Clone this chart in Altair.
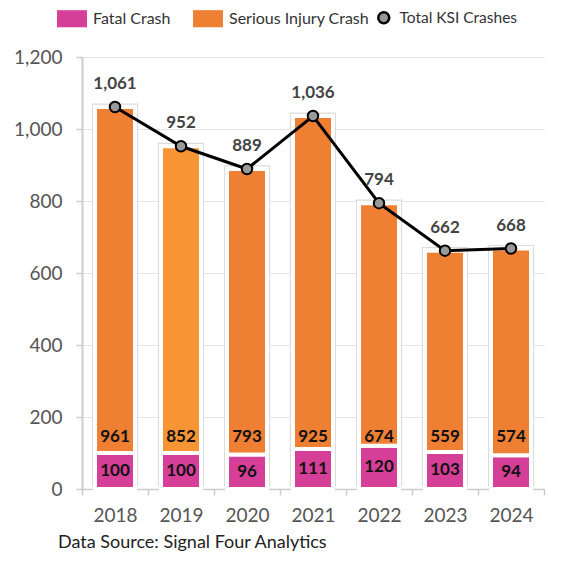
import altair as alt
import pandas as pd

years = ["2018", "2019", "2020", "2021", "2022", "2023", "2024"]
fatal = [100, 100, 96, 111, 120, 103, 94]
serious = [961, 852, 793, 925, 674, 559, 574]
total = [1061, 952, 889, 1036, 794, 662, 668]

PINK = "#D63F97"
ORANGE = "#EE7F33"
ORANGE_HI = "#F79433"
FONT = "Lato"

rows = []
for y, f, s in zip(years, fatal, serious):
    rows.append({"year": y, "type": "Fatal Crash", "value": f, "ord": 0})
    rows.append({"year": y, "type": "Serious Injury Crash", "value": s, "ord": 1})
long_df = pd.DataFrame(rows)
tot_df = pd.DataFrame({"year": years, "total": total, "fatal": fatal,
                       "serious": serious, "series": ["Total KSI Crashes"] * len(years)})

x_enc = alt.X("year:N", title=None, sort=years,
              scale=alt.Scale(paddingInner=0, paddingOuter=0),
              axis=alt.Axis(labelAngle=0, labelFontSize=19, labelColor="#555", labelFont=FONT,
                            tickBand="extent", tickSize=6, tickColor="#ccc", tickWidth=1.5,
                            domainColor="#ccc", domainWidth=1.5, labelPadding=11, grid=False))
y_scale = alt.Scale(domain=[0, 1200])
y_axis = alt.Axis(values=[0, 200, 400, 600, 800, 1000, 1200], format=",.0f", labelFontSize=19,
                  labelColor="#555", labelFont=FONT, tickSize=6, tickColor="#ccc", tickWidth=1.5,
                  domainColor="#ccc", domainWidth=2, labelPadding=14, gridColor="#e3e3e3",
                  gridWidth=1)

base_tot = alt.Chart(tot_df)

bg = base_tot.mark_bar(size=45, fill="white", stroke="#dcdcdc", strokeWidth=1.2, yOffset=-3).encode(
    x=x_enc,
    y=alt.Y("total:Q", title=None, scale=y_scale, axis=y_axis),
)

bars = alt.Chart(long_df).mark_bar(size=40, stroke="white", strokeWidth=4).encode(
    x=alt.X("year:N", sort=years),
    y=alt.Y("value:Q", stack="zero", scale=y_scale),
    order=alt.Order("ord:Q"),
    color=alt.condition(
        "datum.year == '2019' && datum.type == 'Serious Injury Crash'",
        alt.value(ORANGE_HI),
        alt.Color("type:N",
                  scale=alt.Scale(domain=["Fatal Crash", "Serious Injury Crash"], range=[PINK, ORANGE]),
                  legend=alt.Legend(title=None, orient="none", direction="horizontal",
                                    legendX=-25, legendY=-53.5, padding=0,
                                    symbolType="M-1,-0.57H1V0.57H-1Z", symbolSize=900,
                                    symbolStrokeWidth=0, labelFontSize=16, labelFont=FONT,
                                    labelColor="#333", labelOffset=6, columnPadding=22)),
    ),
)

fatal_lbl = base_tot.mark_text(font=FONT, fontSize=17, fontWeight="bold", color="#111").encode(
    x=alt.X("year:N", sort=years),
    y=alt.Y("fatal_mid:Q", scale=y_scale),
    text=alt.Text("fatal:Q"),
).transform_calculate(fatal_mid="datum.fatal / 2")

serious_lbl = base_tot.mark_text(font=FONT, fontSize=17, fontWeight="bold", color="#111").encode(
    x=alt.X("year:N", sort=years),
    y=alt.datum(145),
    text=alt.Text("serious:Q"),
)

line = base_tot.mark_line(color="black", strokeWidth=3).encode(
    x=alt.X("year:N", sort=years),
    y=alt.Y("total:Q", scale=y_scale),
)

pt_legend = alt.Legend(title=None, orient="none", legendX=294, legendY=-47, padding=0,
                       symbolSize=120, symbolStrokeWidth=2.5, labelFontSize=15.5,
                       labelFont=FONT, labelColor="#333", labelOffset=8)
pts = base_tot.mark_point(filled=True, strokeWidth=2, size=110, opacity=1).encode(
    x=alt.X("year:N", sort=years),
    y=alt.Y("total:Q", scale=y_scale),
    shape=alt.Shape("series:N", scale=alt.Scale(domain=["Total KSI Crashes"], range=["circle"]),
                    legend=pt_legend),
    fill=alt.Fill("series:N", scale=alt.Scale(domain=["Total KSI Crashes"], range=["#999999"]),
                  legend=pt_legend),
    stroke=alt.Stroke("series:N", scale=alt.Scale(domain=["Total KSI Crashes"], range=["#000000"]),
                      legend=pt_legend),
)

tot_lbl = base_tot.mark_text(font=FONT, fontSize=17, fontWeight="bold", color="#444", dy=-23).encode(
    x=alt.X("year:N", sort=years),
    y=alt.Y("total:Q", scale=y_scale),
    text=alt.Text("total:Q", format=","),
)

chart = alt.layer(bg, bars, fatal_lbl, serious_lbl, line, pts, tot_lbl).properties(
    width=462, height=432,
    autosize=alt.AutoSizeParams(type="none"),
    padding={"left": 74, "top": 49, "right": 22, "bottom": 66},
    title=alt.TitleParams("Data Source: Signal Four Analytics", orient="bottom", anchor="start",
                          frame="group", fontSize=18, font=FONT, fontWeight="normal",
                          color="#222", dx=-24, offset=9),
).configure_view(stroke=None).resolve_scale(color="independent", shape="independent",
                                             fill="independent", stroke="independent")

chart.save("out.html", embed_options={"renderer": "svg", "actions": False})
